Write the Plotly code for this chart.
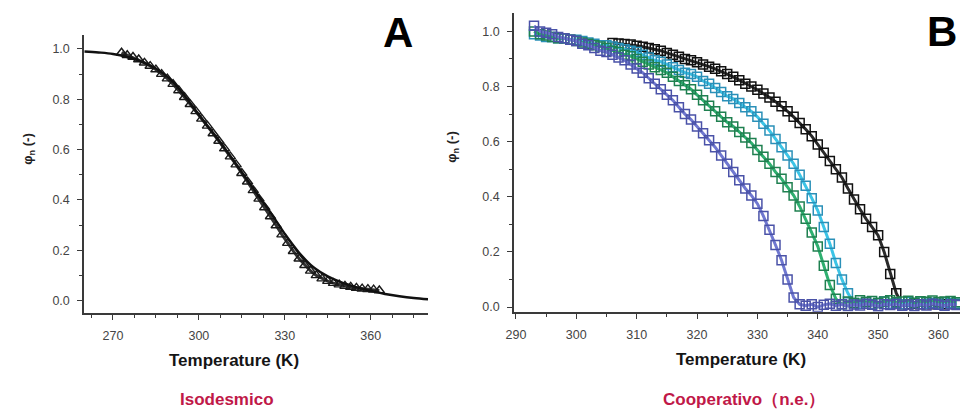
import plotly.graph_objects as go

# ---------------- Panel A (isodesmic) ----------------
a_fit_T = [260, 265, 270, 275, 280, 285, 290, 295, 300, 305, 310, 315, 320, 325,
           330, 335, 340, 345, 350, 355, 360, 365, 370, 375, 380]
a_fit_phi = [0.990, 0.986, 0.980, 0.968, 0.950, 0.922, 0.880, 0.815, 0.738, 0.665,
             0.590, 0.510, 0.430, 0.350, 0.265, 0.190, 0.132, 0.096, 0.071, 0.053,
             0.038, 0.026, 0.017, 0.010, 0.005]

a_data_T = [273, 275, 277, 279, 281, 283, 285, 287, 289, 291, 293, 295, 297, 299,
            301, 303, 305, 307, 309, 311, 313, 315, 317, 319, 321, 323, 325, 327,
            329, 331, 333, 335, 337, 339, 341, 343, 345, 347, 349, 351, 353, 355,
            357, 359, 361, 363]
a_data_phi = [0.985, 0.975, 0.968, 0.958, 0.945, 0.932, 0.918, 0.900, 0.882, 0.860,
              0.835, 0.808, 0.780, 0.752, 0.722, 0.694, 0.664, 0.634, 0.604, 0.572,
              0.540, 0.506, 0.472, 0.438, 0.404, 0.370, 0.334, 0.298, 0.262, 0.228,
              0.196, 0.166, 0.140, 0.118, 0.100, 0.087, 0.077, 0.069, 0.063, 0.058,
              0.054, 0.050, 0.047, 0.045, 0.043, 0.040]

# ---------------- Panel B (cooperative) ----------------
b_T = list(range(293, 364))

b_blue = [1.020, 1.000, 0.995, 0.990, 0.980, 0.975, 0.970, 0.965, 0.955, 0.950,
          0.940, 0.930, 0.925, 0.915, 0.905, 0.895, 0.880, 0.865, 0.850, 0.830,
          0.810, 0.790, 0.770, 0.750, 0.725, 0.700, 0.680, 0.655, 0.630, 0.605,
          0.580, 0.550, 0.520, 0.490, 0.460, 0.430, 0.405, 0.375, 0.330, 0.280,
          0.225, 0.170, 0.100, 0.035, 0.010,
          0.005, 0.010, 0.000, 0.008, 0.012, 0.005, 0.010, 0.004, 0.009, 0.006,
          0.012, 0.008, 0.003, 0.010, 0.007, 0.011, 0.005, 0.009, 0.004, 0.010,
          0.006, 0.012, 0.008, 0.005, 0.010, 0.007]

b_green = [1.000, 0.990, 0.985, 0.980, 0.975, 0.975, 0.970, 0.965, 0.960, 0.955,
           0.950, 0.945, 0.940, 0.930, 0.925, 0.915, 0.910, 0.900, 0.890, 0.880,
           0.870, 0.860, 0.850, 0.835, 0.820, 0.805, 0.790, 0.770, 0.750, 0.730,
           0.710, 0.690, 0.670, 0.655, 0.635, 0.615, 0.595, 0.570, 0.545, 0.520,
           0.490, 0.465, 0.435, 0.405, 0.365, 0.320, 0.270, 0.220, 0.150, 0.080,
           0.030, 0.010,
           0.020, 0.015, 0.025, 0.018, 0.022, 0.015, 0.020, 0.025, 0.017, 0.020,
           0.023, 0.016, 0.021, 0.019, 0.024, 0.018, 0.020, 0.022, 0.017]

b_cyan = [0.990, 0.985, 0.980, 0.980, 0.975, 0.975, 0.970, 0.970, 0.965, 0.960,
          0.955, 0.950, 0.950, 0.945, 0.940, 0.935, 0.930, 0.925, 0.915, 0.905,
          0.895, 0.890, 0.880, 0.870, 0.860, 0.850, 0.845, 0.835, 0.820, 0.810,
          0.795, 0.780, 0.765, 0.755, 0.740, 0.725, 0.710, 0.690, 0.665, 0.640,
          0.610, 0.580, 0.550, 0.520, 0.480, 0.440, 0.395, 0.350, 0.290, 0.230,
          0.160, 0.100, 0.050, 0.015,
          0.012, 0.018, 0.010, 0.015, 0.020, 0.012, 0.016, 0.010, 0.018, 0.014,
          0.020, 0.012, 0.016, 0.011, 0.017, 0.015, 0.013]

b_black_T = list(range(306, 364))
b_black = [0.958, 0.956, 0.954, 0.952, 0.948, 0.944, 0.940,
           0.935, 0.930, 0.922, 0.915, 0.908, 0.900, 0.895, 0.888, 0.880, 0.872,
           0.864, 0.855, 0.845, 0.835, 0.823, 0.810, 0.800, 0.788, 0.775, 0.760,
           0.745, 0.728, 0.710, 0.690, 0.668, 0.645, 0.620, 0.590, 0.560, 0.530,
           0.500, 0.470, 0.430, 0.390, 0.355, 0.320, 0.290, 0.260, 0.200, 0.120,
           0.050, 0.010,
           0.010, 0.012, 0.010, 0.011, 0.010, 0.012, 0.010, 0.011, 0.010]

x_ticks_a = [270, 300, 330, 360]
x_ticks_b = [290, 300, 310, 320, 330, 340, 350, 360]
y_ticks = [0.0, 0.2, 0.4, 0.6, 0.8, 1.0]
y_ticklabels = ["0.0", "0.2", "0.4", "0.6", "0.8", "1.0"]

fig = go.Figure()

# Panel A
fig.add_trace(go.Scatter(
    x=a_data_T, y=a_data_phi, mode="lines+markers", xaxis="x", yaxis="y",
    line=dict(color="#333333", width=3),
    marker=dict(symbol="triangle-up-open", size=9, color="#1a1a1a",
                line=dict(width=1.4, color="#1a1a1a")),
    showlegend=False, hoverinfo="skip"))
fig.add_trace(go.Scatter(
    x=a_fit_T, y=a_fit_phi, mode="lines", xaxis="x", yaxis="y",
    line=dict(color="#111111", width=2.4, shape="spline"),
    showlegend=False, hoverinfo="skip"))

# Panel B
series_b = [
    (b_black_T, b_black, "#2a2a2a", "#111111"),
    (b_T, b_cyan, "#3cc4e6", "#2a90b8"),
    (b_T, b_green, "#2fb070", "#1f8050"),
    (b_T, b_blue, "#7078d0", "#4a52a8"),
]
for xs, ys, col, edge in series_b:
    fig.add_trace(go.Scatter(
        x=xs, y=ys, mode="lines+markers", xaxis="x2", yaxis="y2",
        line=dict(color=col, width=3),
        marker=dict(symbol="square-open", size=9, color=edge,
                    line=dict(width=1.5, color=edge)),
        showlegend=False, hoverinfo="skip"))

axis_common = dict(
    showline=True, linecolor="#3a3a3a", linewidth=2, mirror=False,
    ticks="outside", ticklen=5, tickwidth=1.3, tickcolor="#3a3a3a",
    showgrid=False, zeroline=False, ticklabelstandoff=5,
    tickfont=dict(family="Liberation Sans, Arial", size=12.5, color="#444444"),
)

fig.update_layout(
    width=960, height=414,
    margin=dict(l=0, r=0, t=0, b=0),
    paper_bgcolor="white", plot_bgcolor="white",
    xaxis=dict(domain=[76/960, 423/960], range=[260, 380], anchor="y",
               tickvals=x_ticks_a, ticktext=[str(v) for v in x_ticks_a],
               minor=dict(dtick=7.5, tick0=270, ticks="outside", ticklen=3,
                          tickcolor="#3a3a3a", tickwidth=1),
               **axis_common),
    yaxis=dict(domain=[1 - 315/414, 1 - 35/414], range=[-0.0485, 1.0564],
               anchor="x", tickvals=y_ticks, ticktext=y_ticklabels,
               minor=dict(dtick=0.1, tick0=0, ticks="outside", ticklen=3,
                          tickcolor="#3a3a3a", tickwidth=1),
               **axis_common),
    xaxis2=dict(domain=[510/960, 1.0], range=[289.72, 363.56], anchor="y2",
                tickvals=x_ticks_b, ticktext=[str(v) for v in x_ticks_b],
                minor=dict(dtick=5, tick0=290, ticks="outside", ticklen=3,
                           tickcolor="#3a3a3a", tickwidth=1),
                **axis_common),
    yaxis2=dict(domain=[1 - 314/414, 1 - 13/414], range=[-0.017, 1.067],
                anchor="x2", tickvals=y_ticks, ticktext=y_ticklabels,
                minor=dict(dtick=0.1, tick0=0, ticks="outside", ticklen=3,
                           tickcolor="#3a3a3a", tickwidth=1),
                **axis_common),
)

def paper_ann(text, x, y, size, color="#111111", angle=0, bold=True,
              family="Liberation Sans, Arial"):
    t = f"<b>{text}</b>" if bold else text
    fig.add_annotation(text=t, x=x / 960, y=1 - y / 414, xref="paper", yref="paper",
                       showarrow=False, xanchor="center", yanchor="middle",
                       textangle=angle,
                       font=dict(family=family, size=size, color=color))

# axis titles
paper_ann("φ<sub>n</sub> (-)", 20, 150, 13, color="#222222", angle=-90)
paper_ann("φ<sub>n</sub> (-)", 448, 148, 13, color="#222222", angle=-90)
paper_ann("Temperature (K)", 227, 363, 17, color="#151515")
paper_ann("Temperature (K)", 739, 362, 17, color="#151515")

# panel letters
paper_ann("A", 393, 33, 42, color="#000000")
paper_ann("B", 942, 32, 42, color="#000000")

# captions
paper_ann("Isodesmico", 220, 402, 17, color="#c01848")
paper_ann("Cooperativo（n.e.）", 742, 402, 17, color="#c01848")

fig.write_html("out.html")
